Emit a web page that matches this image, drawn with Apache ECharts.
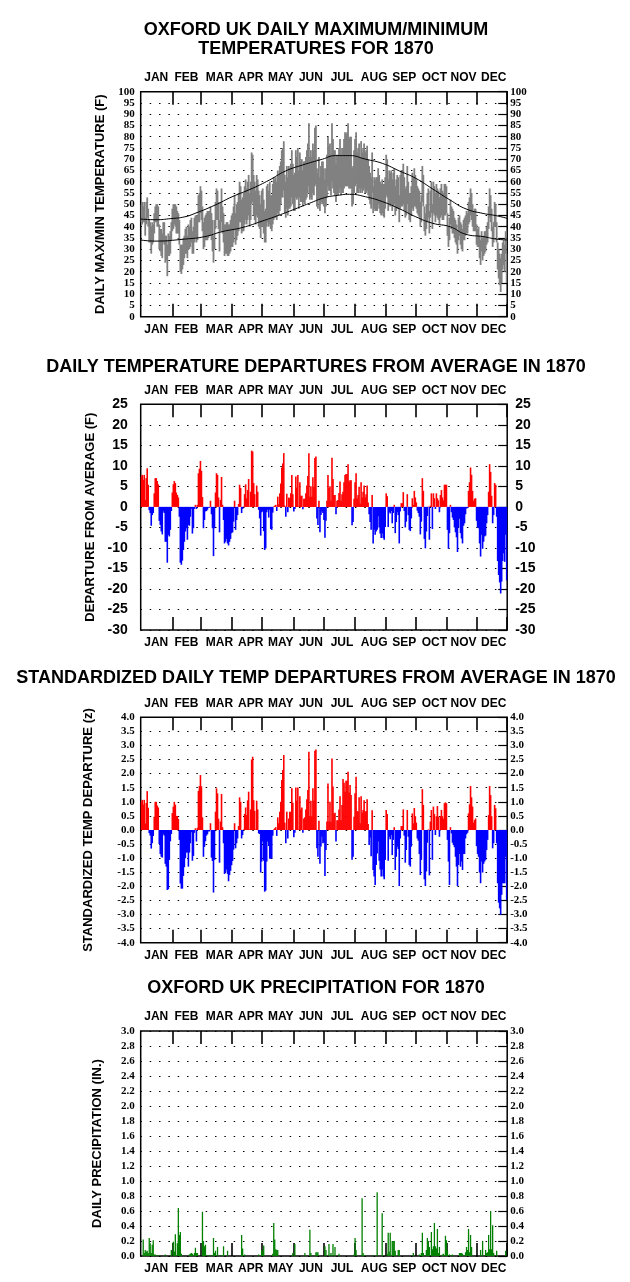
<!DOCTYPE html>
<html>
<head>
<meta charset="utf-8">
<script src="https://cdn.jsdelivr.net/npm/echarts@6/dist/echarts.min.js"></script>
<style>html,body{margin:0;padding:0;background:#fff}#c{width:630px;height:1282px}</style>
</head>
<body>
<div id="c"></div>
<script>
const MONTHS = ['JAN','FEB','MAR','APR','MAY','JUN','JUL','AUG','SEP','OCT','NOV','DEC'];
const MONTH_DAYS = [31,28,31,30,31,30,31,31,30,31,30,31];

// Daily maximum temperature (F), Jan..Dec 1870
const T_MAX = [
50,51,49,51,44,51,53,48,43,42,40,42,41,46,49,50,50,49,41,39,39,37,42,42,36,36,32,37,36,38,42,
48,50,50,50,49,47,46,43,32,32,32,35,36,39,40,36,41,40,43,44,38,40,44,45,45,45,54,55,
58,56,49,42,44,45,46,47,47,47,49,46,43,36,43,51,57,56,51,43,51,57,49,46,41,41,42,42,41,41,43,
45,46,49,54,46,50,51,55,60,58,52,53,55,58,61,57,60,63,55,60,73,72,63,60,56,63,61,56,54,50,
56,57,52,47,48,58,59,56,60,54,54,59,62,61,62,60,65,63,67,69,74,75,78,63,60,67,62,67,66,68,74,
68,63,64,74,71,75,65,73,69,70,65,69,69,71,74,77,86,71,74,71,77,74,84,85,66,64,71,62,67,69,
69,66,61,66,72,80,76,77,72,86,79,74,74,68,72,72,75,79,72,75,75,79,82,81,82,86,79,80,80,66,67,
74,79,82,73,75,77,71,78,73,75,77,73,74,76,70,67,64,62,73,58,62,61,62,62,66,63,60,59,61,59,59,
62,72,70,61,65,64,65,61,64,66,58,61,63,62,54,63,65,65,68,62,57,58,67,60,55,55,58,64,62,66,
63,61,58,57,56,51,54,67,63,49,46,50,55,57,47,56,60,50,60,58,55,59,57,56,53,57,59,56,55,59,59,
58,46,40,44,52,49,48,47,44,43,41,38,44,45,42,41,39,43,44,45,47,46,51,53,57,55,50,47,48,48,
41,39,40,36,34,38,35,36,38,38,40,42,49,57,54,48,40,42,51,50,42,33,30,28,26,28,33,34,32,38,28
];
// Daily minimum temperature (F)
const T_MIN = [
42,41,42,42,36,41,44,40,33,33,28,32,33,37,42,42,40,40,30,29,27,26,33,32,24,25,18,27,27,28,34,
38,39,41,40,37,37,37,32,20,19,21,23,26,28,28,26,30,30,31,33,28,28,33,35,33,34,42,42,
46,43,38,30,31,34,34,34,35,36,36,34,29,24,30,39,43,43,39,29,38,42,37,33,27,28,28,27,27,28,29,
31,31,33,39,32,34,36,38,42,42,37,38,38,41,43,41,43,45,40,43,50,51,45,43,41,45,44,40,39,35,
40,40,37,33,33,40,42,40,41,39,38,41,43,44,44,43,46,45,47,50,53,53,56,46,44,48,45,48,48,49,53,
50,47,47,53,52,53,48,53,51,51,49,51,50,52,53,55,58,52,53,52,55,54,58,59,49,48,52,47,50,51,
50,49,46,49,53,58,56,56,54,60,57,55,54,51,54,54,55,57,54,55,55,57,58,58,58,58,57,57,57,49,50,
55,58,59,55,55,57,55,57,55,56,57,55,55,56,54,52,50,48,55,46,48,47,47,47,50,48,46,45,46,45,44,
48,54,53,47,50,49,50,47,49,50,45,47,48,48,42,48,49,49,50,47,44,45,50,46,43,42,45,48,47,49,
49,48,46,45,44,40,42,51,49,38,36,39,42,44,37,44,46,39,46,45,42,45,44,43,41,44,45,43,43,45,45,
46,36,31,34,41,39,37,37,35,33,32,28,34,36,32,30,29,34,34,36,37,37,41,42,45,43,40,38,38,38,
32,31,31,26,23,29,25,27,28,29,32,33,39,44,42,38,31,33,40,40,33,21,17,14,11,15,21,23,20,28,15
];

// Normal (long-term average) max / min temperature, sampled by day of year
const NORM_MAX_DAYS = [0,15,30,44,54,74,91,111,128,144,161,181,194,208,224,241,258,274,291,308,324,341,354,365];
const NORM_MAX = [43.4,43.1,43.6,44.4,45.9,49.6,53.3,57.0,60.7,64.7,67.4,70.0,71.6,71.6,70.0,68.1,64.7,61.5,56.7,51.9,47.9,45.9,44.9,43.7];
const NORM_MIN_DAYS = [0,14,44,64,81,101,121,134,151,168,183,194,208,224,241,258,274,291,308,324,341,354,365];
const NORM_MIN = [34.1,33.6,34.5,35.6,37.8,39.6,42.5,44.5,47.4,50.4,52.9,53.8,54.4,53.3,51.1,47.9,44.4,41.5,40.0,36.6,35.6,34.5,34.1];

// Daily departure from average (F)
const DEP_F = [
7.4,7.8,6.6,7.8,1.7,7.0,9.4,5.4,-0.8,-1.5,-4.6,-2.0,-1.5,3.3,7.0,7.0,6.3,5.5,-3.4,-4.4,-6.0,-6.7,-1.1,-1.5,-8.5,-8.5,-13.6,-6.8,-7.2,-5.6,-1.0,
3.5,5.5,6.3,5.8,3.5,2.9,2.3,-2.4,-13.6,-14.1,-13.1,-10.5,-8.5,-6.0,-5.2,-8.0,-4.4,-4.6,-2.4,-0.5,-6.5,-5.2,-0.5,0.5,-0.5,0.5,8.2,9.3,
11.2,8.8,2.4,-5.2,-3.2,-1.1,-1.0,-0.7,-0.2,-0.2,1.5,-1.8,-5.2,-12.0,-5.2,3.5,8.2,7.8,2.3,-6.2,1.7,7.3,0.5,-3.2,-8.9,-8.5,-7.8,-8.9,-9.4,-8.5,-7.8,
-6.4,-6.2,-3.6,1.5,-5.6,-3.2,-2.0,0.7,5.4,4.6,-1.5,-0.5,0.1,3.1,5.5,2.1,4.1,6.8,0.1,3.7,13.7,13.5,5.8,3.1,0.1,5.2,3.7,-0.7,-2.8,-7.0,
-1.3,-1.1,-5.9,-10.5,-10.1,-1.3,-0.7,-2.6,-0.7,-5.4,-5.6,-1.4,0.1,0.3,0.5,-1.0,2.5,0.6,3.3,5.7,9.6,10.6,13.1,0.3,-2.4,3.2,-1.3,2.3,2.1,3.3,7.8,
3.1,-1.1,-0.5,7.4,4.7,7.8,0.1,6.0,2.7,2.7,-0.6,2.0,2.0,3.3,5.2,7.5,13.1,2.5,5.0,2.5,7.2,4.9,11.9,12.3,-2.8,-4.4,1.5,-6.2,-2.0,-1.1,
-1.5,-3.2,-7.5,-3.4,1.5,7.8,4.6,5.0,1.5,12.0,6.8,2.9,2.9,-1.8,1.5,1.7,3.4,6.2,1.5,3.1,3.7,6.0,7.8,8.0,8.0,10.4,6.2,6.5,6.5,-4.5,-3.7,
2.0,6.0,8.2,2.1,2.9,4.9,0.8,6.0,2.3,3.7,5.2,2.3,3.1,5.2,1.1,-1.8,-3.7,-5.6,2.9,-8.9,-5.6,-6.8,-6.0,-5.6,-2.3,-5.0,-6.5,-7.6,-6.5,-7.6,-8.0,
-4.9,3.3,2.6,-4.9,-1.3,-1.6,-1.0,-4.0,-1.5,0.5,-6.4,-3.7,-1.3,-2.0,-8.9,-1.1,0.9,0.9,3.6,-1.0,-5.0,-3.6,3.1,-2.0,-5.6,-5.9,-2.8,2.1,0.5,3.9,
2.3,1.1,-0.9,-1.5,-2.4,-6.7,-3.6,7.0,3.9,-7.8,-10.1,-6.0,-2.2,0.1,-8.0,0.3,3.3,-5.4,3.3,2.1,-0.5,3.3,2.1,1.6,-1.3,2.9,4.1,2.3,1.6,5.4,5.4,
5.4,-5.6,-10.2,-6.4,0.5,-1.3,-2.6,-3.2,-5.0,-6.2,-7.4,-11.0,-5.0,-2.9,-6.4,-7.7,-8.9,-4.6,-4.0,-1.8,-0.4,-0.3,3.9,6.0,9.6,7.8,3.9,1.5,2.0,2.1,
-3.4,-5.0,-5.2,-8.9,-12.1,-6.8,-10.2,-8.5,-7.2,-7.0,-4.0,-2.0,3.7,10.4,8.5,2.7,-4.0,-2.0,5.8,5.4,-2.4,-13.2,-16.6,-18.4,-21.1,-18.2,-13.2,-11.3,-13.4,-6.8,-17.9
];

// Standardized daily departure (z)
const DEP_Z = [
1.0,1.07,0.9,1.07,0.23,0.96,1.38,0.79,-0.11,-0.2,-0.66,-0.47,-0.21,0.47,1.0,1.0,0.87,0.8,-0.5,-0.85,-0.95,-0.98,-0.15,-0.2,-1.2,-1.3,-2.13,-2.1,-1.06,-0.4,-0.14,
0.6,0.83,1.0,0.9,0.5,0.5,0.39,-0.35,-1.9,-2.08,-2.08,-1.63,-1.32,-1.0,-0.8,-0.8,-1.3,-0.8,-0.47,-0.08,-1.09,-0.92,-0.1,0.06,-0.41,0.08,1.39,1.56,
1.95,1.55,0.45,-0.95,-0.6,-0.4,-0.2,-0.15,-0.05,-0.05,0.24,-0.98,-1.1,-2.22,-1.06,0.65,1.48,1.3,0.4,-1.16,0.3,1.28,0.1,-0.47,-1.56,-1.5,-1.4,-1.56,-1.82,-1.6,-1.45,
-1.25,-1.1,-0.7,0.24,-0.65,-0.47,-0.3,0.14,1.16,1.0,-0.3,-0.18,0.02,0.57,0.8,0.53,1.05,1.36,0.02,0.73,2.5,2.6,1.06,0.68,0.02,1.04,0.73,-0.12,-0.14,-1.51,
-1.12,-0.41,-1.09,-2.19,-2.15,-1.12,-0.41,-0.57,-1.02,-1.02,-1.0,-0.2,0.02,0.06,0.1,-0.21,0.45,0.24,0.65,1.0,1.77,2.13,2.66,0.26,-0.47,0.65,-0.3,0.41,0.65,0.65,1.48,
0.97,-0.26,-0.1,1.51,1.04,1.51,0.02,1.2,0.73,0.8,-0.1,0.41,0.45,0.73,1.09,1.42,2.78,0.49,1.04,0.49,1.48,1.04,2.81,2.86,-0.65,-0.95,0.33,-1.2,-0.59,-0.24,
-0.47,-0.44,-1.63,-0.71,0.3,1.65,0.3,1.0,0.3,2.54,1.54,0.59,0.61,-0.41,0.35,0.35,0.73,1.2,0.35,0.89,1.81,1.68,1.36,1.75,1.75,2.07,1.33,1.6,1.24,-1.06,-0.95,
0.47,1.3,1.89,0.67,0.65,1.16,0.24,1.2,0.61,0.71,1.06,0.65,0.67,1.09,0.21,-0.53,-0.27,-0.93,0.7,-1.42,-1.65,-1.95,-1.24,-0.83,-0.41,-1.09,-1.4,-1.65,-1.4,-1.65,-1.75,
-1.06,0.71,0.57,-1.09,-0.24,-0.33,-0.18,-0.89,-0.35,0.1,-1.42,-0.95,-0.59,-0.68,-1.99,-0.3,0.14,0.14,0.73,-0.2,-1.16,-0.71,0.71,-0.24,-1.24,-1.3,-0.59,0.59,0.24,0.78,
0.49,0.26,-0.3,-0.38,-0.85,-1.6,-1.06,1.45,0.89,-1.75,-1.99,-1.47,-0.45,0.02,-1.61,0.3,0.71,-1.06,0.83,0.57,-0.18,0.49,0.85,0.47,-0.24,0.49,0.71,0.49,0.4,0.95,0.98,
0.95,-0.35,-1.12,-1.95,0.1,-0.12,-0.45,-0.53,-0.61,-0.95,-1.3,-1.99,-1.24,-0.85,-1.3,-1.12,-1.42,-0.85,-0.85,-0.3,-0.15,-0.1,0.59,0.91,1.56,1.16,0.83,0.26,0.35,0.41,
-0.57,-0.85,-0.95,-1.51,-1.89,-1.12,-1.51,-1.2,-1.12,-1.06,-0.71,-0.35,0.53,1.56,1.24,0.49,-0.65,-0.47,0.89,0.77,-0.47,-1.89,-2.58,-2.78,-3.01,-2.3,-1.89,-1.89,-1.89,-0.95,-2.48
];

// Daily precipitation (in.): day-of-year index (0 = Jan 1) and amount, wet days only
const PRECIP_DAYS = [2,3,4,5,6,7,8,9,10,11,12,13,14,16,18,24,30,32,33,34,36,37,38,39,40,48,49,50,51,53,54,55,56,61,62,63,64,66,68,70,72,73,74,76,80,81,82,86,100,101,103,117,120,121,122,131,132,133,134,135,136,151,153,163,168,169,174,175,176,183,184,187,189,191,193,197,212,213,214,220,221,222,223,231,235,240,245,246,247,248,250,251,252,253,256,257,271,277,278,279,280,281,284,285,286,287,289,290,291,292,293,294,295,296,297,300,301,303,304,305,307,309,310,317,318,319,320,323,324,325,326,327,328,329,338,340,343,344,345,346,347,348,349,350,351,354,363];
const PRECIP = [0.22,0.04,0.08,0.06,0.07,0.04,0.24,0.17,0.04,0.15,0.21,0.02,0.02,0.01,0.01,0.02,0.08,0.19,0.06,0.29,0.17,0.64,0.28,0.32,0.03,0.02,0.03,0.04,0.03,0.04,0.11,0.04,0.04,0.59,0.2,0.13,0.15,0.01,0.01,0.01,0.24,0.04,0.07,0.12,0.01,0.01,0.13,0.07,0.28,0.1,0.02,0.02,0.08,0.06,0.14,0.03,0.44,0.22,0.09,0.08,0.08,0.04,0.16,0.04,0.35,0.04,0.05,0.05,0.05,0.13,0.08,0.16,0.04,0.16,0.12,0.03,0.02,0.24,0.08,0.77,0.04,0.01,0.01,0.01,0.85,0.57,0.03,0.31,0.06,0.31,0.2,0.2,0.2,0.07,0.08,0.08,0.04,0.02,0.01,0.04,0.31,0.04,0.08,0.24,0.2,0.12,0.32,0.09,0.13,0.44,0.13,0.1,0.36,0.04,0.12,0.02,0.03,0.27,0.21,0.07,0.02,0.01,0.02,0.04,0.04,0.04,0.03,0.05,0.12,0.08,0.36,0.05,0.28,0.12,0.08,0.2,0.08,0.04,0.05,0.28,0.09,0.6,0.09,0.41,0.04,0.07,0.07];

// ---- layout constants ----
const LABEL_SHIFT = [0,0,4,4,4,3,4,5,4,4,2,2];   // month label nudge (days) to match the original placement
const SANS = '"Liberation Sans", Arial, sans-serif';
const SERIF = '"Liberation Serif", "Times New Roman", serif';
const GRIDS = [
  {top: 91.7, height: 225},
  {top: 404.3, height: 225.7},
  {top: 717.3, height: 225.4},
  {top: 1031, height: 225}
];
const PLOT_LEFT = 140.7, PLOT_W = 366.5;

// ---- axis helpers built from the month table ----
const DAY_CATS = [];
const MONTH_TICK = new Set();
const MID_LABEL = {};
(function () {
  let idx = 0;
  MONTH_DAYS.forEach((n, m) => {
    if (idx > 0) MONTH_TICK.add(idx + 1);
    MID_LABEL[idx + Math.floor(n / 2) + LABEL_SHIFT[m]] = MONTHS[m];
    for (let d = 0; d < n; d++) DAY_CATS.push(String(idx++));
  });
})();

function catAxis(g, pos) {
  return {
    type: 'category', gridIndex: g, position: pos, data: DAY_CATS, boundaryGap: true,
    axisLine: {show: false, onZero: false},
    axisTick: {show: true, inside: true, length: 13, interval: (i) => MONTH_TICK.has(i),
      lineStyle: {color: '#000', width: 1.6}},
    axisLabel: {show: true, interval: (i) => (i in MID_LABEL),
      formatter: (v) => MID_LABEL[+v] || '',
      color: '#000', fontFamily: SANS, fontWeight: 'bold', fontSize: 12,
      margin: pos === 'top' ? 8 : 7},
    splitLine: {show: false}
  };
}

function yPair(g, cfg) {
  const fmt = (v) => cfg.dec ? v.toFixed(cfg.dec) : String(Math.round(v));
  const lbl = {color: '#000', fontFamily: cfg.font, fontWeight: 'bold', fontSize: cfg.size, formatter: fmt};
  return [
    {type: 'value', gridIndex: g, position: 'left', min: cfg.min, max: cfg.max, interval: cfg.step,
      axisLine: {show: false, onZero: false}, axisTick: {show: false},
      axisLabel: Object.assign({margin: cfg.lm}, lbl),
      splitLine: {show: true, lineStyle: {color: '#000', width: 1, type: [1.5, 7.83], dashOffset: 0.33}},
      name: cfg.name, nameLocation: 'middle', nameRotate: 90, nameGap: cfg.gap,
      nameTextStyle: {color: '#000', fontFamily: SANS, fontWeight: 'bold', fontSize: 13}},
    {type: 'value', gridIndex: g, position: 'right', min: cfg.min, max: cfg.max, interval: cfg.step,
      axisLine: {show: false, onZero: false},
      axisTick: {show: true, inside: true, length: 9, lineStyle: {color: '#000', width: 1.2}},
      axisLabel: Object.assign({margin: cfg.rm}, lbl),
      splitLine: {show: false}}
  ];
}

const xAxes = [];
GRIDS.forEach((_, g) => { xAxes.push(catAxis(g, 'bottom')); xAxes.push(catAxis(g, 'top')); });
xAxes.push({type: 'value', gridIndex: 0, min: 0, max: 365, show: false});

const yAxes = [].concat(
  yPair(0, {min: 0, max: 100, step: 5, font: SERIF, size: 11, lm: 6, rm: 3, name: 'DAILY MAX/MIN TEMPERATURE (F)', gap: 33}),
  yPair(1, {min: -30, max: 25, step: 5, font: SANS, size: 14, lm: 13, rm: 8, name: 'DEPARTURE FROM AVERAGE (F)', gap: 44}),
  yPair(2, {min: -4, max: 4, step: 0.5, dec: 1, font: SERIF, size: 11, lm: 6, rm: 3, name: 'STANDARDIZED TEMP DEPARTURE (z)', gap: 46}),
  yPair(3, {min: 0, max: 3, step: 0.2, dec: 1, font: SERIF, size: 11, lm: 6, rm: 3, name: 'DAILY PRECIPITATION (IN.)', gap: 37})
);

const RANGE = T_MAX.map((v, i) => v - T_MIN[i]);
const signColor = (p) => (p.value >= 0 ? '#ff0000' : '#0000ff');

const series = [
  {type: 'bar', xAxisIndex: 0, yAxisIndex: 0, stack: 'mm', data: T_MIN, barWidth: 1.8,
    itemStyle: {color: 'rgba(0,0,0,0)'}, silent: true},
  {type: 'bar', xAxisIndex: 0, yAxisIndex: 0, stack: 'mm', data: RANGE, barWidth: 1.8,
    itemStyle: {color: '#808080'}},
  {type: 'line', xAxisIndex: 8, yAxisIndex: 0, data: NORM_MAX_DAYS.map((d, i) => [d, NORM_MAX[i]]),
    smooth: true, symbol: 'none', lineStyle: {color: '#000', width: 1}, z: 5},
  {type: 'line', xAxisIndex: 8, yAxisIndex: 0, data: NORM_MIN_DAYS.map((d, i) => [d, NORM_MIN[i]]),
    smooth: true, symbol: 'none', lineStyle: {color: '#000', width: 1}, z: 5},
  {type: 'bar', xAxisIndex: 2, yAxisIndex: 2, data: DEP_F, barWidth: 1.6, itemStyle: {color: signColor}},
  {type: 'bar', xAxisIndex: 4, yAxisIndex: 4, data: DEP_Z, barWidth: 1.6, itemStyle: {color: signColor}},
  {type: 'bar', xAxisIndex: 6, yAxisIndex: 6, data: PRECIP_DAYS.map((d, i) => [d, PRECIP[i]]),
    barWidth: 1.3, itemStyle: {color: '#008000'}}
];

function title(text, y) {
  return {type: 'text', x: 316, y: y, z: 10,
    style: {text: text, font: 'bold 18px ' + SANS, fill: '#000',
      textAlign: 'center', textVerticalAlign: 'middle', align: 'center', verticalAlign: 'middle'}};
}

const chart = echarts.init(document.getElementById('c'), null, {renderer: 'canvas'});
chart.setOption({
  animation: false,
  backgroundColor: '#fff',
  grid: GRIDS.map((gr) => ({left: PLOT_LEFT, width: PLOT_W, top: gr.top, height: gr.height,
    show: true, borderColor: '#000', borderWidth: 1.5, backgroundColor: 'rgba(0,0,0,0)'})),
  xAxis: xAxes,
  yAxis: yAxes,
  series: series,
  graphic: [
    title('OXFORD UK DAILY MAXIMUM/MINIMUM', 30),
    title('TEMPERATURES FOR 1870', 49),
    title('DAILY TEMPERATURE DEPARTURES FROM AVERAGE IN 1870', 367),
    title('STANDARDIZED DAILY TEMP DEPARTURES FROM AVERAGE IN 1870', 678),
    title('OXFORD UK PRECIPITATION FOR 1870', 988)
  ]
});
</script>
</body>
</html>
